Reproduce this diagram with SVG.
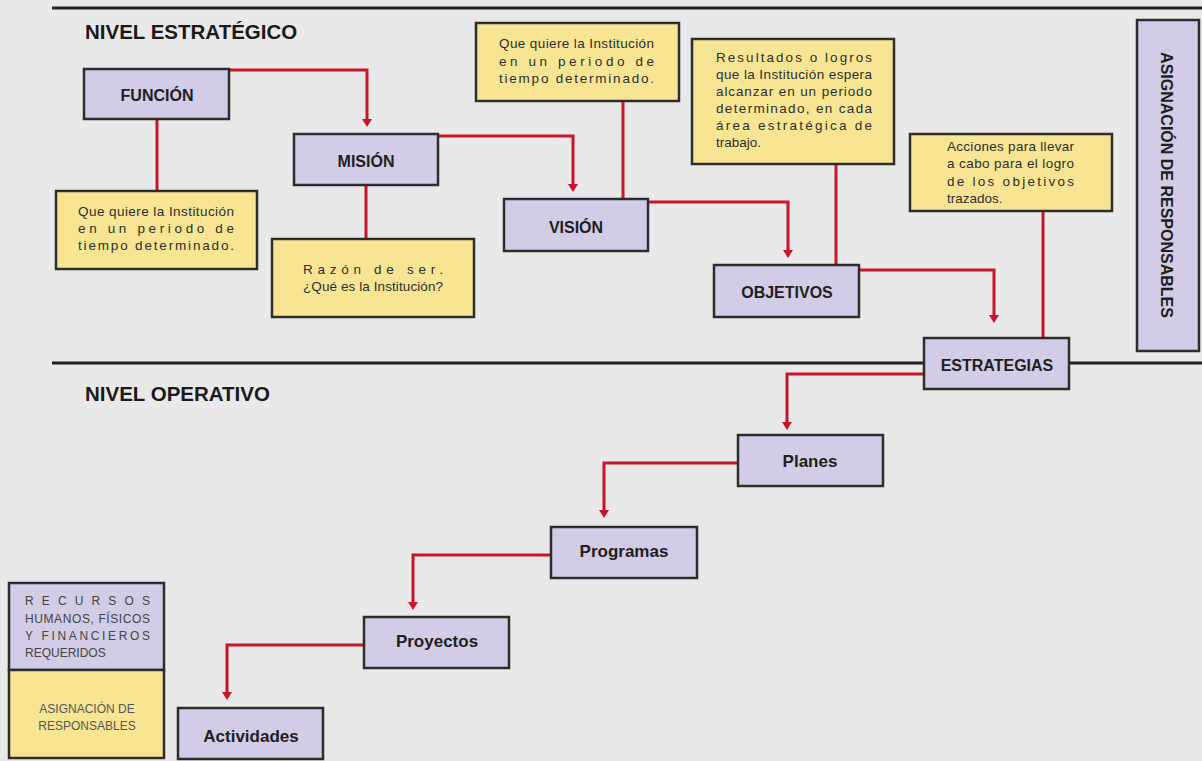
<svg xmlns="http://www.w3.org/2000/svg" width="1202" height="761" viewBox="0 0 1202 761">
<defs>
<style>
.p{fill:#d2cce6;stroke:#2d2d2d;stroke-width:2.5}
.y{fill:#f7e593;stroke:#2d2d2d;stroke-width:2.5}
.lbl{font-family:"Liberation Sans",Arial,sans-serif;font-weight:bold;fill:#1e1e1e;text-anchor:middle;font-size:16px}
.lbl2{font-family:"Liberation Sans",Arial,sans-serif;font-weight:bold;fill:#1e1e1e;text-anchor:middle;font-size:17px}
.hd{font-family:"Liberation Sans",Arial,sans-serif;font-weight:bold;fill:#1a1a1a;font-size:20.5px}
.note{font-family:"Liberation Sans",Arial,sans-serif;font-size:13.5px;fill:#2e2e2e}
.leg{font-family:"Liberation Sans",Arial,sans-serif;font-size:12px;fill:#444}
.leg2{font-family:"Liberation Sans",Arial,sans-serif;font-size:12px;fill:#555;text-anchor:middle}
.c{stroke:#c8152a;stroke-width:3;fill:none}
.ca{marker-end:url(#ah)}
.rule{stroke:#222;stroke-width:3}
</style>
<marker id="ah" viewBox="0 0 8 10" markerWidth="8" markerHeight="10" refX="2" refY="5" orient="auto" markerUnits="userSpaceOnUse">
<path d="M0,0 L8,5 L0,10 z" fill="#c8152a"/>
</marker>
</defs>
<rect x="0" y="0" width="1202" height="761" fill="#e9e9e9"/>
<g id="rules">
<line class="rule" x1="52" y1="8" x2="1202" y2="8"/>
<line class="rule" x1="52" y1="363" x2="1202" y2="363"/>
<text class="hd" x="85" y="39">NIVEL ESTRATÉGICO</text>
<text class="hd" x="85" y="401">NIVEL OPERATIVO</text>
</g>
<g id="connectors">
<path class="c ca" d="M229,70 H367 V121"/>
<path class="c ca" d="M438,136 H573 V186"/>
<path class="c ca" d="M648,202 H788 V252"/>
<path class="c ca" d="M859,270 H994 V317"/>
<path class="c ca" d="M924,374 H787 V424"/>
<path class="c ca" d="M738,463 H604 V512"/>
<path class="c ca" d="M551,555 H413 V604"/>
<path class="c ca" d="M364,645 H227 V694"/>
<path class="c" d="M157,119 V191"/>
<path class="c" d="M366,185 V239"/>
<path class="c" d="M623,101 V199"/>
<path class="c" d="M836,164 V265"/>
<path class="c" d="M1043,211 V338"/>
</g>
<g id="funcion"><rect class="p" x="84" y="69" width="145" height="50"/><text class="lbl" x="157" y="101">FUNCIÓN</text></g>
<g id="mision"><rect class="p" x="294" y="134" width="144" height="51"/><text class="lbl" x="366" y="167">MISIÓN</text></g>
<g id="vision"><rect class="p" x="504" y="199" width="144" height="52"/><text class="lbl" x="576" y="233">VISIÓN</text></g>
<g id="objetivos"><rect class="p" x="714" y="265" width="145" height="52"/><text class="lbl" x="787" y="298">OBJETIVOS</text></g>
<g id="estrategias"><rect class="p" x="924" y="338" width="145" height="51"/><text class="lbl" x="997" y="371">ESTRATEGIAS</text></g>
<g id="planes"><rect class="p" x="738" y="435" width="145" height="51"/><text class="lbl2" x="810" y="467">Planes</text></g>
<g id="programas"><rect class="p" x="551" y="527" width="146" height="51"/><text class="lbl2" x="624" y="557">Programas</text></g>
<g id="proyectos"><rect class="p" x="364" y="617" width="145" height="51"/><text class="lbl2" x="437" y="647">Proyectos</text></g>
<g id="actividades"><rect class="p" x="178" y="708" width="145" height="51"/><text class="lbl2" x="251" y="742">Actividades</text></g>
<g id="asignacion-vertical"><rect class="p" x="1137" y="20" width="62" height="331"/><text class="lbl" transform="translate(1161,185) rotate(90)" x="0" y="0">ASIGNACIÓN DE RESPONSABLES</text></g>
<g id="nota-funcion"><rect class="y" x="56" y="191" width="201" height="78"/>
<text class="note" x="78" y="216" textLength="156" lengthAdjust="spacing">Que quiere la Institución</text>
<text class="note" x="78" y="233" textLength="156" lengthAdjust="spacing">en un periodo de</text>
<text class="note" x="78" y="250" textLength="156" lengthAdjust="spacing">tiempo determinado.</text></g>
<g id="nota-mision"><rect class="y" x="272" y="239" width="202" height="78"/>
<text class="note" x="303" y="274" textLength="140" lengthAdjust="spacing">Razón de ser.</text>
<text class="note" x="303" y="291" textLength="140" lengthAdjust="spacing">¿Qué es la Institución?</text></g>
<g id="nota-vision"><rect class="y" x="476" y="23" width="203" height="78"/>
<text class="note" x="499" y="48" textLength="155" lengthAdjust="spacing">Que quiere la Institución</text>
<text class="note" x="499" y="66" textLength="155" lengthAdjust="spacing">en un periodo de</text>
<text class="note" x="499" y="83" textLength="155" lengthAdjust="spacing">tiempo determinado.</text></g>
<g id="nota-objetivos"><rect class="y" x="692" y="39" width="202" height="125"/>
<text class="note" x="716" y="62" textLength="156" lengthAdjust="spacing">Resultados o logros</text>
<text class="note" x="716" y="79" textLength="156" lengthAdjust="spacing">que la Institución espera</text>
<text class="note" x="716" y="96" textLength="156" lengthAdjust="spacing">alcanzar en un periodo</text>
<text class="note" x="716" y="113" textLength="156" lengthAdjust="spacing">determinado, en cada</text>
<text class="note" x="716" y="130" textLength="156" lengthAdjust="spacing">área estratégica de</text>
<text class="note" x="716" y="147">trabajo.</text></g>
<g id="nota-estrategias"><rect class="y" x="910" y="134" width="202" height="77"/>
<text class="note" x="947" y="151" textLength="127" lengthAdjust="spacing">Acciones para llevar</text>
<text class="note" x="947" y="168" textLength="127" lengthAdjust="spacing">a cabo para el logro</text>
<text class="note" x="947" y="186" textLength="127" lengthAdjust="spacing">de los objetivos</text>
<text class="note" x="947" y="203">trazados.</text></g>
<g id="leyenda">
<rect class="p" x="9" y="583" width="155" height="87"/>
<rect class="y" x="9" y="670" width="155" height="88"/>
<text class="leg" x="25" y="605" textLength="125" lengthAdjust="spacing">RECURSOS</text>
<text class="leg" x="25" y="623" textLength="125" lengthAdjust="spacing">HUMANOS, FÍSICOS</text>
<text class="leg" x="25" y="640" textLength="125" lengthAdjust="spacing">Y FINANCIEROS</text>
<text class="leg" x="25" y="657">REQUERIDOS</text>
<text class="leg2" x="87" y="713">ASIGNACIÓN DE</text>
<text class="leg2" x="87" y="730">RESPONSABLES</text>
</g>
</svg>
